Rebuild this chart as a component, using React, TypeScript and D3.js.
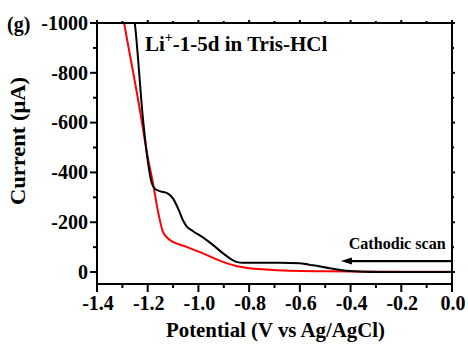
import React from "react";
import * as d3 from "d3";

const blackV = [-1.262, -1.251, -1.218, -1.205, -1.185, -1.172, -1.153, -1.12, -1.1, -1.08, -1.061, -1.047, -1.021, -0.982, -0.942, -0.903, -0.87, -0.85, -0.824, -0.74, -0.68, -0.601, -0.548, -0.482, -0.416, -0.351, -0.25, -0.1, 0.0];
const blackI = [-1080, -1000, -608, -488, -361, -335, -325, -315, -295, -255, -208, -184, -164, -139, -108, -75, -51, -41, -37, -37, -37, -35, -27, -15, -5, -1.5, -0.5, 0, 0];

const redV = [-1.305, -1.293, -1.225, -1.205, -1.179, -1.159, -1.14, -1.12, -1.047, -0.982, -0.903, -0.837, -0.745, -0.64, -0.5, -0.4, -0.2, 0.0];
const redI = [-1070, -1000, -615, -488, -355, -241, -161, -135, -101, -75, -41, -21, -11, -5, -3, -2, -1.2, -1];

const xTicks = [-1.4, -1.2, -1.0, -0.8, -0.6, -0.4, -0.2, 0.0];
const xMinor = [-1.3, -1.1, -0.9, -0.7, -0.5, -0.3, -0.1];
const yTicks = [-1000, -800, -600, -400, -200, 0];
const yMinor = [-900, -700, -500, -300, -100];

const arrowFromV = 0.0;
const arrowToV = -0.438;
const arrowI = -44;

const FONT = "'Liberation Serif', 'Times New Roman', serif";

export default function App() {
  const L = 97, R = 452, T = 23, B = 284;
  const x = d3.scaleLinear().domain([-1.4, 0]).range([L, R]);
  const y = d3.scaleLinear().domain([-1000, 48]).range([T, B]);

  const line = d3
    .line<[number, number]>()
    .x((d) => x(d[0]))
    .y((d) => y(d[1]))
    .curve(d3.curveMonotoneX);

  const black = blackV.map((v, i) => [v, blackI[i]] as [number, number]);
  const red = redV.map((v, i) => [v, redI[i]] as [number, number]);

  const ax1 = x(arrowFromV), ax2 = x(arrowToV), ay = y(arrowI);

  return (
    <svg
      width={468}
      height={349}
      style={{ position: "absolute", left: 0, top: 0, background: "#fff" }}
      fontFamily={FONT}
      fontWeight="bold"
    >
      <defs>
        <clipPath id="plotclip">
          <rect x={L} y={T} width={R - L} height={B - T} />
        </clipPath>
      </defs>

      <g clipPath="url(#plotclip)">
        <path d={line(red) || ""} fill="none" stroke="#ff0000" strokeWidth={2} />
        <path d={line(black) || ""} fill="none" stroke="#000" strokeWidth={2} />
      </g>

      {/* frame */}
      <rect x={L} y={T} width={R - L} height={B - T} fill="none" stroke="#000" strokeWidth={2} />

      {/* x ticks */}
      {xTicks.map((t) => (
        <g key={"xt" + t}>
          <line x1={x(t)} x2={x(t)} y1={B} y2={B + 8} stroke="#000" strokeWidth={2} />
          <line x1={x(t)} x2={x(t)} y1={T} y2={T - 3} stroke="#000" strokeWidth={2} />
          <text x={x(t) + 1} y={310} textAnchor="middle" fontSize={20}>
            {t.toFixed(1)}
          </text>
        </g>
      ))}
      {xMinor.map((t) => (
        <g key={"xm" + t}>
          <line x1={x(t)} x2={x(t)} y1={B} y2={B + 4} stroke="#000" strokeWidth={2} />
          <line x1={x(t)} x2={x(t)} y1={T} y2={T - 2} stroke="#000" strokeWidth={2} />
        </g>
      ))}

      {/* y ticks */}
      {yTicks.map((t) => (
        <g key={"yt" + t}>
          <line x1={L} x2={L - 7} y1={y(t)} y2={y(t)} stroke="#000" strokeWidth={2} />
          <line x1={R} x2={R + 3} y1={y(t)} y2={y(t)} stroke="#000" strokeWidth={2} />
          <text x={88} y={y(t)} dy="0.34em" textAnchor="end" fontSize={20}>
            {String(t)}
          </text>
        </g>
      ))}
      {yMinor.map((t) => (
        <g key={"ym" + t}>
          <line x1={L} x2={L - 4} y1={y(t)} y2={y(t)} stroke="#000" strokeWidth={2} />
          <line x1={R} x2={R + 2} y1={y(t)} y2={y(t)} stroke="#000" strokeWidth={2} />
        </g>
      ))}

      {/* arrow */}
      <line x1={ax1} x2={ax2 + 8} y1={ay} y2={ay} stroke="#000" strokeWidth={2.3} />
      <path d={`M${ax2},${ay} L${ax2 + 11},${ay - 3.5} L${ax2 + 11},${ay + 3.5} Z`} fill="#000" />
      <text x={445.7} y={249} textAnchor="end" fontSize={17} textLength={97} lengthAdjust="spacingAndGlyphs">
        Cathodic scan
      </text>

      {/* title */}
      <text x={145} y={50.5} fontSize={21}>
        Li<tspan fontSize={14} dy={-9}>+</tspan><tspan dy={9}>-1-5d in Tris-HCl</tspan>
      </text>

      {/* panel label */}
      <text x={7} y={31} fontSize={20}>(g)</text>

      {/* axis titles */}
      <text x={275.5} y={337} textAnchor="middle" fontSize={22} textLength={219} lengthAdjust="spacingAndGlyphs">
        Potential (V vs Ag/AgCl)
      </text>
      <text
        transform="translate(25,141) rotate(-90)"
        textAnchor="middle"
        fontSize={22}
        textLength={128}
        lengthAdjust="spacingAndGlyphs"
      >
        Current (μA)
      </text>
    </svg>
  );
}
